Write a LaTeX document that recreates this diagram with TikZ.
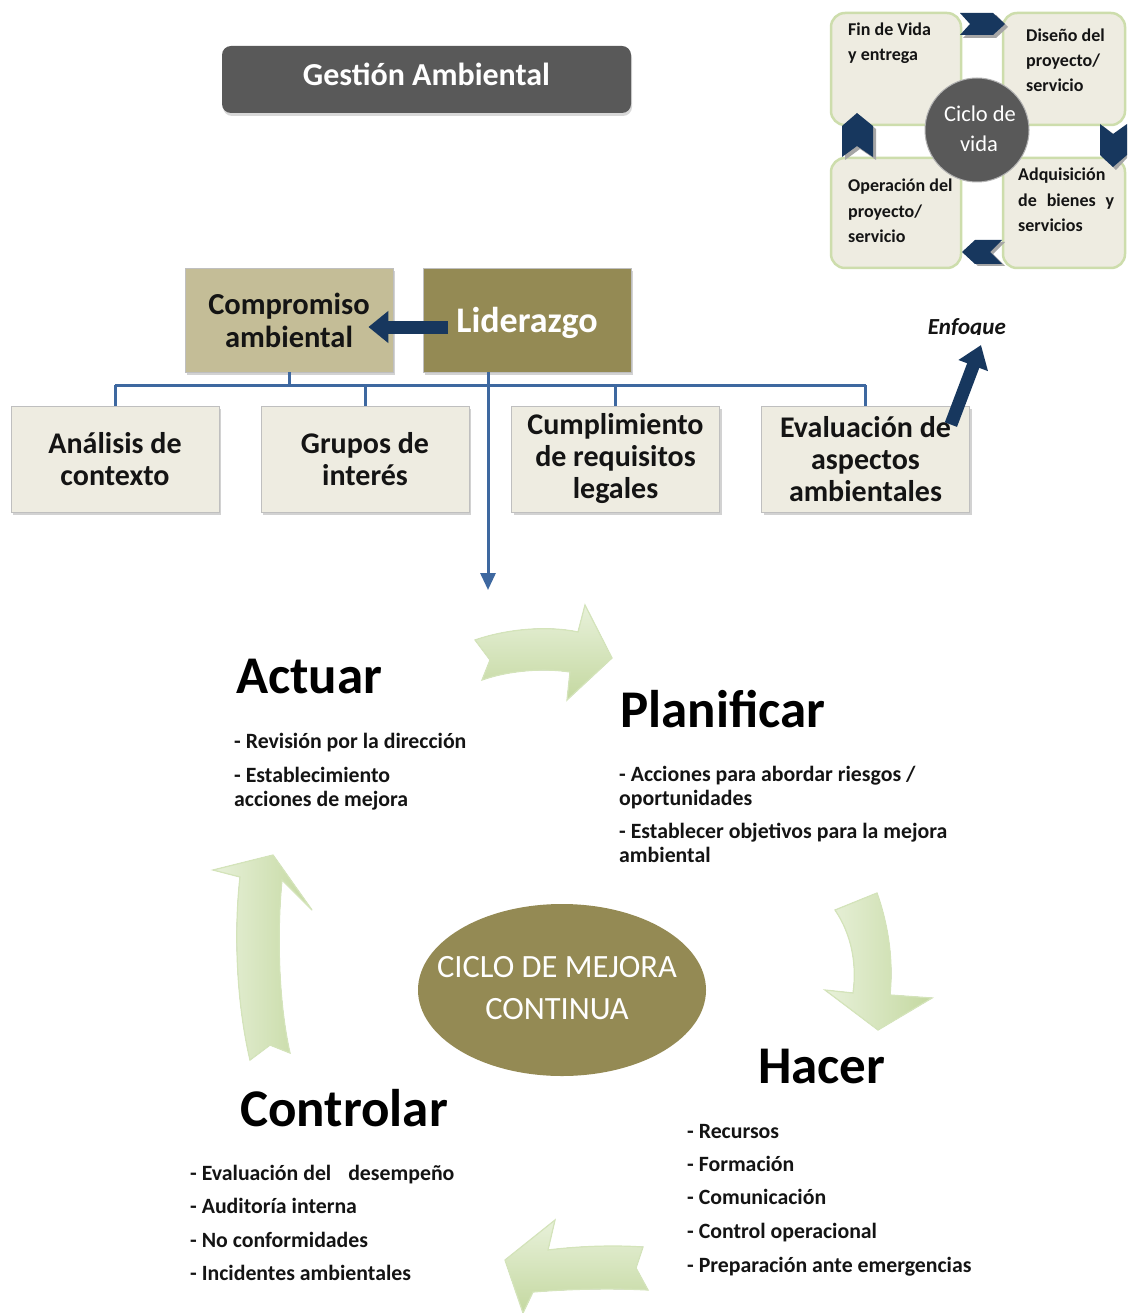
\documentclass[tikz,border=0pt]{standalone}
\usepackage{fontspec}
\setmainfont{Carlito}
\usetikzlibrary{arrows.meta,shadows,calc,shapes.geometric}
\definecolor{navy}{RGB}{23,55,94}
\definecolor{olivec}{RGB}{148,138,84}
\definecolor{tanc}{RGB}{196,189,151}
\definecolor{beigec}{RGB}{238,236,225}
\definecolor{dgray}{RGB}{89,89,89}
\definecolor{connc}{RGB}{62,104,160}
\definecolor{glight}{RGB}{232,241,218}
\definecolor{gmid}{RGB}{196,216,160}
\definecolor{gedge}{RGB}{212,228,186}
\definecolor{gborder}{RGB}{205,221,172}
\definecolor{txt}{RGB}{20,20,20}
\begin{document}
\begin{tikzpicture}[x=1pt,y=-1pt,
  box/.style={draw=gray!50, line width=0.8pt, fill=beigec, minimum width=208pt, minimum height=106pt,
    inner sep=0pt, align=center, text=txt, font=\fontsize{30}{32}\selectfont\bfseries,
    drop shadow={shadow xshift=2pt, shadow yshift=-3pt, opacity=0.35, fill=gray}},
  cbox/.style={draw=gborder, line width=2.5pt, fill=beigec, rounded corners=14pt, inner sep=0pt},
  ctext/.style={anchor=base west, inner sep=0pt, font=\fontsize{18}{20}\selectfont\bfseries, text=txt},
  conn/.style={draw=connc, line width=3pt},
  navyarr/.style={draw=navy, line width=13pt, -{Triangle[length=20pt,width=31pt]}},
  chevsh/.style={fill=gray!70},
  chev/.style={fill=navy},
  garrowh/.style={draw=gedge, line width=1.2pt, top color=glight, bottom color=gmid},
  garrowv/.style={draw=gedge, line width=1.2pt, left color=glight, right color=gmid},
  headtxt/.style={anchor=base west, inner sep=0pt, font=\fontsize{53}{60}\selectfont\bfseries, text=black},
  bodytxt/.style={anchor=base west, inner sep=0pt, font=\fontsize{21.8}{24}\selectfont\bfseries, text=txt},
]
\useasboundingbox (0,0) rectangle (1127,1313);
\fill[white] (0,0) rectangle (1127,1313);

% ---------- title ----------
\node[fill=dgray, rounded corners=9pt, minimum width=409pt, minimum height=67pt, inner sep=0pt,
  drop shadow={shadow xshift=1pt, shadow yshift=-3pt, opacity=0.3, fill=gray}] (title) at (426.5,79.5) {};
\node[anchor=base, inner sep=0pt, text=white, font=\fontsize{32}{36}\selectfont\bfseries] (titletext) at (426.5,86) {Gestión Ambiental};

% ---------- life cycle ----------
\node[cbox, minimum width=130pt, minimum height=112pt] (ctl) at (896,69) {};
\node[cbox, minimum width=122pt, minimum height=112pt] (ctr) at (1064,69) {};
\node[cbox, minimum width=130pt, minimum height=110pt] (cbl) at (896,213) {};
\node[cbox, minimum width=122pt, minimum height=110pt] (cbr) at (1064,213) {};
% chevrons (shadow then navy)
\fill[chevsh] (963,15) -- (996,15) -- (1008,27) -- (996,38) -- (963,38) -- (973,27) -- cycle;
\fill[chev] (960,13) -- (993,13) -- (1005,24) -- (993,35) -- (960,35) -- (970,24) -- cycle;
\fill[chevsh] (1103,126) -- (1116,136) -- (1127,128) -- (1127,158) -- (1116,170) -- (1103,158) -- cycle;
\fill[chev] (1100,124) -- (1113,134) -- (1127,124) -- (1127,155) -- (1113,167) -- (1100,155) -- cycle;
\fill[chevsh] (965,254) -- (978,242) -- (1005,242) -- (993,254) -- (1005,266) -- (978,266) -- cycle;
\fill[chev] (962,252) -- (975,240) -- (1002,240) -- (990,252) -- (1002,264) -- (975,264) -- cycle;
\fill[chevsh] (860,116) -- (876,129) -- (876,160) -- (860,149) -- (845,160) -- (845,129) -- cycle;
\fill[chev] (857,113) -- (873,126) -- (873,157) -- (857,146) -- (842,157) -- (842,126) -- cycle;
\node[circle, fill=dgray, draw=gray!60, line width=1pt, minimum size=104pt, inner sep=0pt] (cv) at (977,130) {};
\node[anchor=base, inner sep=0pt, text=white, font=\fontsize{22.5}{30}\selectfont] (cv1) at (980,122) {Ciclo de};
\node[anchor=base, inner sep=0pt, text=white, font=\fontsize{22.5}{30}\selectfont] (cv2) at (979,152) {vida};
\node[ctext] (t1) at (848,36) {Fin de Vida};
\node[ctext] (t2) at (848,61) {y entrega};
\node[ctext] (t3) at (1026,42) {Diseño del};
\node[ctext] (t4) at (1026,67) {proyecto/};
\node[ctext] (t5) at (1026,92) {servicio};
\node[ctext] (t6) at (1018,181) {Adquisición};
\node[ctext] (t7) at (1018,207) {\makebox[96pt][s]{de bienes y}};
\node[ctext] (t8) at (1018,232) {servicios};
\node[ctext] (t9) at (848,192) {Operación del};
\node[ctext] (t10) at (848,218) {proyecto/};
\node[ctext] (t11) at (848,243) {servicio};

% ---------- leadership ----------
\node[box, fill=tanc, minimum height=104pt, font=\fontsize{30.5}{33}\selectfont\bfseries] (comp) at (289,320) {Compromiso\\ambiental};
\node[box, fill=olivec, minimum height=104pt] (lid) at (527,320) {};
\node[anchor=base, inner sep=0pt, text=white, font=\fontsize{36}{40}\selectfont\bfseries] (lidtext) at (527,332) {Liderazgo};

\node[box] (b1) at (115,459) {Análisis de\\contexto};
\node[box] (b2) at (365,459) {Grupos de\\interés};
\node[box] (b3) at (615.5,459) {Cumplimiento\\de requisitos\\legales};
\node[box] (b4) at (865.5,459) {Evaluación de\\aspectos\\ambientales};

\coordinate (busL) at (116,385);
\coordinate (ldown) at (488,590);
\draw[conn] (b1.north |- busL) -- (b4.north |- busL);
\draw[conn] (comp.south) -- (comp.south |- busL);
\foreach \b in {b1,b2,b3,b4} \draw[conn] (\b.north) -- (\b.north |- busL);
\draw[conn, -{Triangle[length=17pt,width=15pt]}] (lid.south -| ldown) -- (ldown);

\draw[navyarr] ($(lid.west)+(25,7)$) -- ($(comp.east)+(-25,7)$);

\begin{scope}
\clip (900,300) rectangle (1030,334.6);
\node[anchor=base east, inner sep=0pt, font=\fontsize{23}{26}\selectfont\bfseries\itshape, text=txt] (enf) at (1006,334) {Enfoque};
\end{scope}
\coordinate (enftip) at (981,345);
\draw[navyarr, -{Triangle[length=22pt,width=30pt]}] ($(b4.north east)+(-19,19)$) -- (enftip);

% ---------- green arrows ----------
\fill[garrowh] (475,640) .. controls (510,628) and (550,626) .. (578,632) -- (585,605) -- (612,658) -- (567,700) -- (570,672)
  .. controls (545,668) and (510,670) .. (482,680) -- (490,660) -- cycle;
\fill[garrowv] (835,910) -- (877,893) .. controls (890,930) and (893,965) .. (890,995) -- (932,998) -- (878,1030) -- (825,990)
  -- (853,993) .. controls (857,965) and (852,935) .. (835,910) -- cycle;
\fill[garrowh] (505,1260) -- (555,1220) -- (548,1250) .. controls (580,1246) and (615,1245) .. (643,1247) -- (636,1268)
  -- (648,1290) .. controls (610,1288) and (570,1289) .. (533,1292) -- (523,1313) -- cycle;
\fill[garrowv] (250,1060) .. controls (236,1000) and (234,930) .. (240,877) -- (213,870) -- (273,855) -- (312,910)
  -- (282,880) .. controls (277,930) and (278,1000) .. (290,1053) -- (270,1045) -- cycle;

% ---------- central ellipse ----------
\node[ellipse, fill=olivec, minimum width=288pt, minimum height=172pt, inner sep=0pt] (mejora) at (562,990) {};
\node[anchor=base, inner sep=0pt, text=white, font=\fontsize{32.5}{36}\selectfont] (m1) at (557,977) {CICLO DE MEJORA};
\node[anchor=base, inner sep=0pt, text=white, font=\fontsize{32.5}{36}\selectfont] (m2) at (557,1019) {CONTINUA};

% ---------- PHVA ----------
\node[headtxt] (actuar) at (236,693) {Actuar};
\node[headtxt] (planificar) at (620,727) {Planificar};
\node[headtxt] (hacer) at (758,1083) {Hacer};
\node[headtxt] (controlar) at (240,1126) {Controlar};

\node[bodytxt] (a1) at (234,748) {- Revisión por la dirección};
\node[bodytxt] (a2) at (234,782) {- Establecimiento};
\node[bodytxt] (a3) at (234,806) {acciones de mejora};

\node[bodytxt] (p1) at (619,781) {- Acciones para abordar riesgos /};
\node[bodytxt] (p2) at (619,805) {oportunidades};
\node[bodytxt] (p3) at (619,838) {- Establecer objetivos para la mejora};
\node[bodytxt] (p4) at (619,862) {ambiental};

\node[bodytxt] (c1) at (190,1180) {- Evaluación del\hspace{12pt} desempeño};
\node[bodytxt] (c2) at (190,1213) {- Auditoría interna};
\node[bodytxt] (c3) at (190,1247) {- No conformidades};
\node[bodytxt] (c4) at (190,1280) {- Incidentes ambientales};

\node[bodytxt] (h1) at (687,1138) {- Recursos};
\node[bodytxt] (h2) at (687,1171) {- Formación};
\node[bodytxt] (h3) at (687,1204) {- Comunicación};
\node[bodytxt] (h4) at (687,1238) {- Control operacional};
\node[bodytxt] (h5) at (687,1272) {- Preparación ante emergencias};
\end{tikzpicture}
\end{document}
